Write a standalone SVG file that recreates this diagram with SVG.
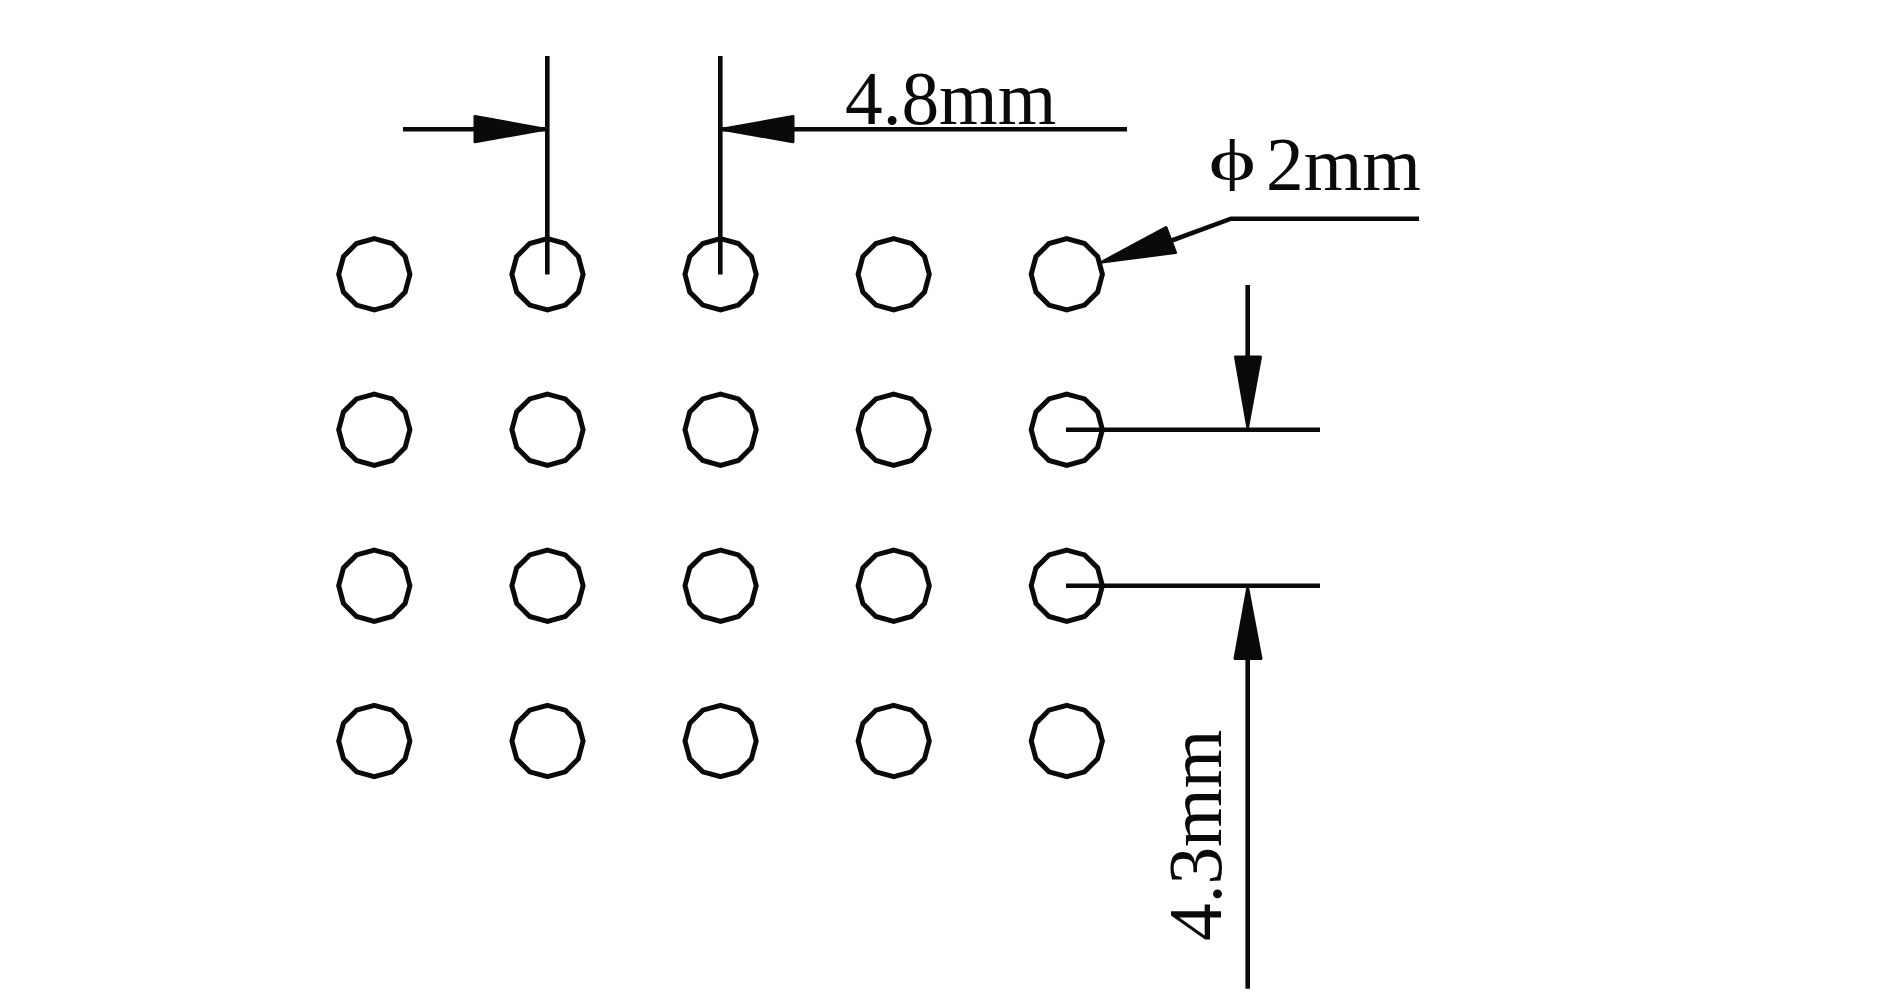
<svg xmlns="http://www.w3.org/2000/svg" xmlns:xlink="http://www.w3.org/1999/xlink" width="1890" height="1002" viewBox="0 0 1890 1002">
<style>
.l{stroke:#0a0a0a;stroke-width:4.6;fill:none}
.h{fill:#0a0a0a;stroke:#0a0a0a;stroke-width:3;stroke-linejoin:round}
.c{stroke:#0a0a0a;stroke-width:5;fill:none;stroke-linejoin:miter}
.t{font-family:"Liberation Serif","Times New Roman",serif;font-size:75.3px;fill:#0a0a0a}
</style>
<defs>
<polygon id="hole" class="c" points="0,-35.6 17.8,-30.83 30.83,-17.8 35.6,0 30.83,17.8 17.8,30.83 0,35.6 -17.8,30.83 -30.83,17.8 -35.6,0 -30.83,-17.8 -17.8,-30.83"/>
</defs>
<rect width="1890" height="1002" fill="#ffffff"/>
<g id="holes">
<g id="h11"><use xlink:href="#hole" href="#hole" x="374.3" y="274.3"/></g>
<g id="h12"><use xlink:href="#hole" href="#hole" x="547.5" y="274.3"/></g>
<g id="h13"><use xlink:href="#hole" href="#hole" x="720.6" y="274.3"/></g>
<g id="h14"><use xlink:href="#hole" href="#hole" x="893.7" y="274.3"/></g>
<g id="h15"><use xlink:href="#hole" href="#hole" x="1066.8" y="274.3"/></g>
<g id="h21"><use xlink:href="#hole" href="#hole" x="374.3" y="429.7"/></g>
<g id="h22"><use xlink:href="#hole" href="#hole" x="547.5" y="429.7"/></g>
<g id="h23"><use xlink:href="#hole" href="#hole" x="720.6" y="429.7"/></g>
<g id="h24"><use xlink:href="#hole" href="#hole" x="893.7" y="429.7"/></g>
<g id="h25"><use xlink:href="#hole" href="#hole" x="1066.8" y="429.7"/></g>
<g id="h31"><use xlink:href="#hole" href="#hole" x="374.3" y="585.7"/></g>
<g id="h32"><use xlink:href="#hole" href="#hole" x="547.5" y="585.7"/></g>
<g id="h33"><use xlink:href="#hole" href="#hole" x="720.6" y="585.7"/></g>
<g id="h34"><use xlink:href="#hole" href="#hole" x="893.7" y="585.7"/></g>
<g id="h35"><use xlink:href="#hole" href="#hole" x="1066.8" y="585.7"/></g>
<g id="h41"><use xlink:href="#hole" href="#hole" x="374.3" y="741"/></g>
<g id="h42"><use xlink:href="#hole" href="#hole" x="547.5" y="741"/></g>
<g id="h43"><use xlink:href="#hole" href="#hole" x="720.6" y="741"/></g>
<g id="h44"><use xlink:href="#hole" href="#hole" x="893.7" y="741"/></g>
<g id="h45"><use xlink:href="#hole" href="#hole" x="1066.8" y="741"/></g>
</g>
<g id="connectors">
<path class="l" d="M547.3 56V274.5M720.3 56V274.5M403 129.2H547M720 129.2H1127"/>
<polygon class="h" points="545,129.2 475,116.5 475,141.8"/>
<polygon class="h" points="722,129.2 793,116.5 793,141.8"/>
<path class="l" d="M1419 218.7H1231L1165 243"/>
<polygon class="h" points="1102,262 1166,227.5 1175.5,252.5"/>
<path class="l" d="M1066 429.7H1320M1066 585.7H1320M1247.7 285V356M1247.7 660V988.7"/>
<polygon class="h" points="1247.7,427 1235.5,357 1260.5,357"/>
<polygon class="h" points="1247.7,588 1235,658.5 1261,658.5"/>
</g>
<g id="labels">
<text class="t" x="845" y="124">4.8mm</text>
<text class="t" transform="translate(1208.5 179) scale(1.2 .77)">ϕ</text>
<text class="t" x="1266" y="190">2mm</text>
<text class="t" transform="translate(1221 941) rotate(-90)">4.3mm</text>
</g>
</svg>
